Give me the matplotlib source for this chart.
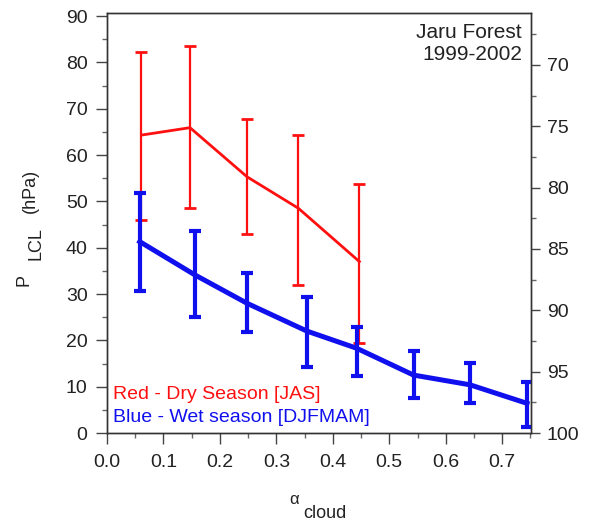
import matplotlib
matplotlib.use("Agg")
import matplotlib.pyplot as plt
from matplotlib.ticker import MultipleLocator

plt.rcParams['font.family'] = ['Liberation Sans', 'DejaVu Sans']

# Dry season (red)
dry_x = [0.061, 0.147, 0.248, 0.339, 0.447]
dry_mean = [64.3, 65.9, 55.3, 48.5, 37.0]
dry_hi = [82.3, 83.6, 67.7, 64.3, 53.7]
dry_lo = [46.0, 48.5, 42.9, 31.9, 19.5]

# Wet season (blue)
wet_x = [0.058, 0.156, 0.248, 0.354, 0.442, 0.543, 0.643, 0.744]
wet_mean = [41.3, 34.1, 28.0, 22.0, 18.3, 12.5, 10.4, 6.4]
wet_hi = [51.9, 43.7, 34.5, 29.4, 22.9, 17.6, 15.2, 11.1]
wet_lo = [30.7, 25.1, 21.9, 14.3, 12.3, 7.5, 6.4, 1.4]

x_ticks = [0.0, 0.1, 0.2, 0.3, 0.4, 0.5, 0.6, 0.7]
left_ticks = [0, 10, 20, 30, 40, 50, 60, 70, 80, 90]
right_ticks = [70, 75, 80, 85, 90, 95, 100]

W, H = 590, 523
fig = plt.figure(figsize=(W / 100, H / 100), dpi=100)
ax = fig.add_axes([107 / W, 1 - 433 / H, (531 - 107) / W, (433 - 13) / H])

red = '#ff1010'
blue = '#1010ee'
txt = '#222222'

ax.errorbar(dry_x, dry_mean,
            yerr=[[m - l for m, l in zip(dry_mean, dry_lo)], [h - m for m, h in zip(dry_mean, dry_hi)]],
            color=red, lw=2.0, elinewidth=1.6, capsize=4.5, capthick=2.0, zorder=3)
ax.errorbar(wet_x, wet_mean,
            yerr=[[m - l for m, l in zip(wet_mean, wet_lo)], [h - m for m, h in zip(wet_mean, wet_hi)]],
            color=blue, lw=3.6, elinewidth=3.0, capsize=4.5, capthick=3.0, zorder=4)

ax.set_xlim(0, 0.751)
ax.set_ylim(0, 90.65)
ax.set_xticks(x_ticks)
ax.set_xticklabels([f"{v:.1f}" for v in x_ticks])
ax.xaxis.set_minor_locator(MultipleLocator(0.05))
ax.set_yticks(left_ticks)
ax.yaxis.set_minor_locator(MultipleLocator(5))

for s in ax.spines.values():
    s.set_color('#333333')
    s.set_linewidth(1.0)

ax.tick_params(which='major', direction='out', length=8, width=1.0, color='#444444',
               labelsize=14, labelcolor=txt)
ax.tick_params(which='minor', direction='out', length=3.5, width=1.0, color='#666666')
ax.tick_params(axis='x', which='major', pad=7)
ax.tick_params(axis='y', which='major', pad=6)

ax2 = ax.twinx()
ax2.set_ylim(100, 100 - (433 - 13) / 12.27)
ax2.set_yticks(right_ticks)
ax2.yaxis.set_minor_locator(MultipleLocator(2.5))
ax2.tick_params(which='major', direction='out', length=6.5, width=1.0, color='#444444',
                labelsize=14, labelcolor=txt, pad=5)
ax2.tick_params(which='minor', direction='out', length=3.5, width=1.0, color='#666666')
for s in ax2.spines.values():
    s.set_color('#333333')
    s.set_linewidth(1.0)

ax.text(0.979, 0.975, 'Jaru Forest\n1999-2002', transform=ax.transAxes, ha='right', va='top',
        fontsize=15, color=txt, linespacing=1.15)
ax.text(0.014, 0.0905, 'Red - Dry Season [JAS]', transform=ax.transAxes, ha='left', va='center',
        fontsize=14, color=red)
ax.text(0.014, 0.036, 'Blue - Wet season [DJFMAM]', transform=ax.transAxes, ha='left', va='center',
        fontsize=14, color=blue)

# y-axis label: P with subscript LCL, then (hPa)
fig.text(24 / W, 1 - 280 / H, 'P', rotation=90, ha='center', va='center', fontsize=13, color=txt)
fig.text(36.5 / W, 1 - 244 / H, 'LCL', rotation=90, ha='center', va='center', fontsize=13, color=txt)
fig.text(30 / W, 1 - 191 / H, '(hPa)', rotation=90, ha='center', va='center', fontsize=13, color=txt)

# x-axis label: alpha with subscript cloud
fig.text(294 / W, 1 - 499 / H, 'α', ha='center', va='center', fontsize=12, color=txt)
fig.text(303 / W, 1 - 513 / H, 'cloud', ha='left', va='center', fontsize=13, color=txt)

fig.savefig('out.png', dpi=100)
